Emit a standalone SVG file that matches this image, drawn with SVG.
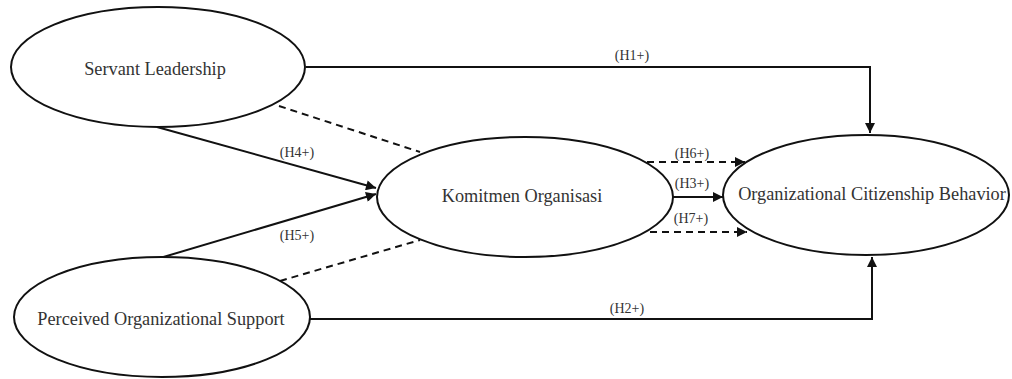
<svg xmlns="http://www.w3.org/2000/svg" width="1012" height="379" viewBox="0 0 1012 379">
<style>
.node ellipse{fill:#fff;stroke:#111;stroke-width:2}
.lbl{font-family:"Liberation Serif","DejaVu Serif",serif;font-size:18.3px;fill:#333;text-anchor:middle}
.hl{font-family:"Liberation Serif","DejaVu Serif",serif;font-size:14px;fill:#333;text-anchor:middle}
.c{fill:none;stroke:#111;stroke-width:2}
.d{stroke-dasharray:7 5}
</style>
<defs>
<marker id="ah" viewBox="0 0 10 10" refX="10" refY="5" markerWidth="11" markerHeight="10" markerUnits="userSpaceOnUse" orient="auto">
<path d="M0,0 L10,5 L0,10 z" fill="#111"/>
</marker>
</defs>
<g id="connectors">
<polyline class="c" points="306,67 870,67 870,133" marker-end="url(#ah)"/>
<polyline class="c" points="310,319 872,319 872,257" marker-end="url(#ah)"/>
<line class="c" x1="157" y1="127" x2="376" y2="188" marker-end="url(#ah)"/>
<line class="c" x1="160" y1="258" x2="376" y2="194" marker-end="url(#ah)"/>
<line class="c d" x1="279" y1="106" x2="420" y2="152"/>
<line class="c d" x1="280" y1="281" x2="420" y2="240"/>
<line class="c d" x1="647" y1="162" x2="745" y2="162" marker-end="url(#ah)"/>
<line class="c" x1="673" y1="197" x2="723" y2="197" marker-end="url(#ah)"/>
<line class="c d" x1="650" y1="232" x2="747" y2="232" marker-end="url(#ah)"/>
<text class="hl" x="632" y="60">(H1+)</text>
<text class="hl" x="627" y="313">(H2+)</text>
<text class="hl" x="297" y="157">(H4+)</text>
<text class="hl" x="297" y="240">(H5+)</text>
<text class="hl" x="692" y="158">(H6+)</text>
<text class="hl" x="692" y="188">(H3+)</text>
<text class="hl" x="691" y="223">(H7+)</text>
</g>
<g id="servant" class="node"><ellipse cx="158" cy="67" rx="147" ry="60"/><text class="lbl" x="155" y="75">Servant Leadership</text></g>
<g id="pos" class="node"><ellipse cx="162" cy="317" rx="148" ry="60"/><text class="lbl" x="161" y="325">Perceived Organizational Support</text></g>
<g id="komitmen" class="node"><ellipse cx="525" cy="197" rx="148" ry="60"/><text class="lbl" x="522" y="202">Komitmen Organisasi</text></g>
<g id="ocb" class="node"><ellipse cx="866" cy="195" rx="143" ry="60"/><text class="lbl" x="872" y="200">Organizational Citizenship Behavior</text></g>
</svg>
